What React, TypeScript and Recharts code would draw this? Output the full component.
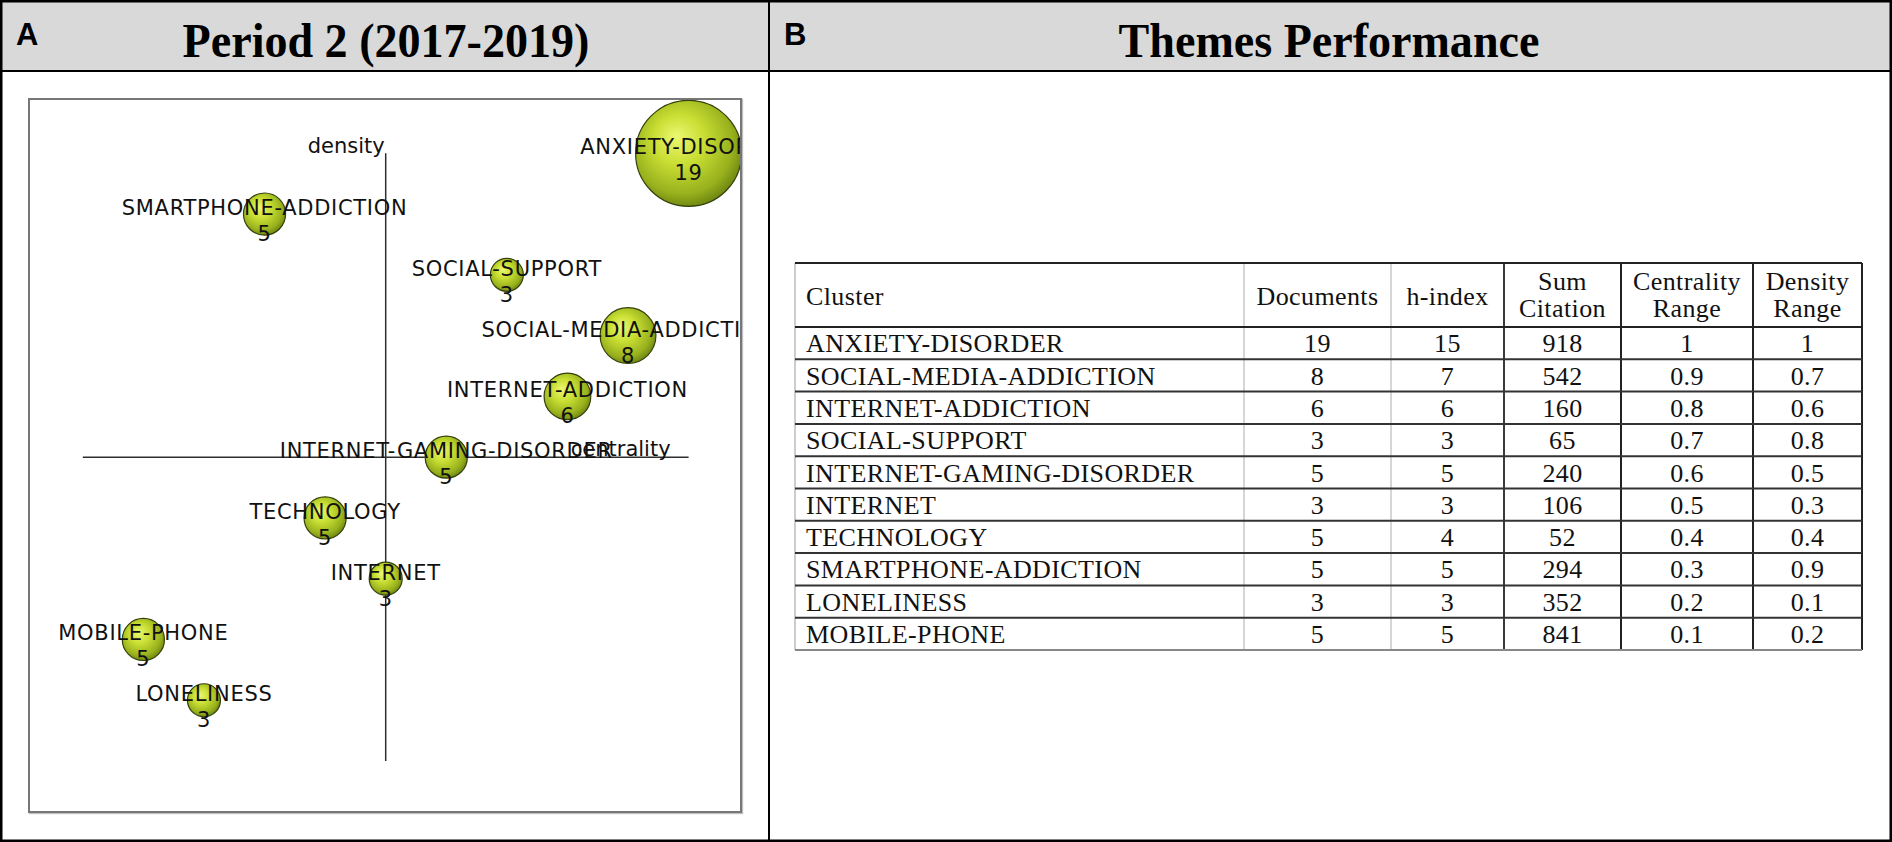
import React from 'react';
import { ScatterChart, Scatter, XAxis, YAxis, ZAxis, ReferenceLine } from 'recharts';

// themes of period 2 (2017-2019), same order as the performance table
const clusters = [
  'ANXIETY-DISORDER',
  'SOCIAL-MEDIA-ADDICTION',
  'INTERNET-ADDICTION',
  'SOCIAL-SUPPORT',
  'INTERNET-GAMING-DISORDER',
  'INTERNET',
  'TECHNOLOGY',
  'SMARTPHONE-ADDICTION',
  'LONELINESS',
  'MOBILE-PHONE',
];
const documents = [19, 8, 6, 3, 5, 3, 5, 5, 3, 5];
const hIndex = [15, 7, 6, 3, 5, 3, 4, 5, 3, 5];
const sumCitation = [918, 542, 160, 65, 240, 106, 52, 294, 352, 841];
const centralityRange = [1, 0.9, 0.8, 0.7, 0.6, 0.5, 0.4, 0.3, 0.2, 0.1];
const densityRange = [1, 0.7, 0.6, 0.8, 0.5, 0.3, 0.4, 0.9, 0.1, 0.2];

const tableHeaders = [['Cluster'], ['Documents'], ['h-index'], ['Sum', 'Citation'], ['Centrality', 'Range'], ['Density', 'Range']];

const plotData = clusters.map((name, i) => ({
  name,
  centrality: centralityRange[i],
  density: densityRange[i],
  docs: documents[i],
}));

const SANS = '"DejaVu Sans", sans-serif';
const SERIF = '"Liberation Serif", "Times New Roman", serif';

// zAxis range is used as the sphere radius
const Bubble = (props: any) => {
  const { cx, cy } = props;
  const r = typeof props.size === 'number' ? props.size : Math.PI * Math.pow(props.width / 2, 2);
  return <circle cx={cx} cy={cy} r={r} fill="url(#sphere)" stroke="#34400a" strokeWidth={1.2} />;
};

const BubbleLabel = (props: any) => {
  const { cx, cy, payload } = props;
  const style = { fontFamily: SANS, fontSize: 21, letterSpacing: 0.7, fill: '#111' };
  return (
    <g>
      <text x={cx} y={cy + 1} textAnchor="middle" style={style}>{payload.name}</text>
      <text x={cx} y={cy + 27} textAnchor="middle" style={style}>{payload.docs}</text>
    </g>
  );
};

const axisText = { fontFamily: SANS, fontSize: 21, fill: '#111' };

const densityLabel = (p: any) => {
  const vb = p.viewBox || { x: 0, y: 0 };
  return <text x={vb.x - 1} y={vb.y} textAnchor="end" style={axisText}>density</text>;
};

const centralityLabel = (p: any) => {
  const vb = p.viewBox || { x: 0, y: 0, width: 0 };
  return <text x={vb.x + vb.width - 18} y={vb.y - 1} textAnchor="end" style={axisText}>centrality</text>;
};

const StrategicDiagram = () => (
  <div
    style={{
      position: 'absolute',
      left: 28,
      top: 98,
      width: 714,
      height: 715,
      border: '2px solid #777',
      boxSizing: 'border-box',
      background: '#fff',
      boxShadow: '1px 1px 1px rgba(0,0,0,0.25)',
      overflow: 'hidden',
    }}
  >
    <ScatterChart width={710} height={711} margin={{ top: 53.3, right: 51.4, bottom: 50, left: 52.8 }}>
      <defs>
        <radialGradient id="sphere" cx="45%" cy="42%" r="60%" fx="38%" fy="34%">
          <stop offset="0%" stopColor="#ecf772" />
          <stop offset="40%" stopColor="#c8de33" />
          <stop offset="80%" stopColor="#98b11d" />
          <stop offset="100%" stopColor="#6c8410" />
        </radialGradient>
      </defs>
      <XAxis type="number" dataKey="centrality" domain={[0, 1]} hide />
      <YAxis type="number" dataKey="density" domain={[0, 1]} hide />
      <ZAxis type="number" dataKey="docs" domain={[3, 19]} range={[16.5, 53]} />
      <ReferenceLine segment={[{ x: 0.5, y: 0 }, { x: 0.5, y: 1 }]} stroke="#2e2e2e" strokeWidth={1.5} label={densityLabel} />
      <ReferenceLine segment={[{ x: 0, y: 0.5 }, { x: 1, y: 0.5 }]} stroke="#2e2e2e" strokeWidth={1.5} label={centralityLabel} />
      <Scatter data={plotData} shape={Bubble} isAnimationActive={false} />
      <Scatter data={plotData} shape={BubbleLabel} isAnimationActive={false} />
    </ScatterChart>
  </div>
);

// table geometry
const colEdges = [795, 1244, 1391, 1504, 1621, 1753, 1862];
const colLine = ['#bdbdbd', '#c9c9c9', '#c9c9c9', '#3a3a3a', '#222', '#222', '#222'];
const headTop = 263;
const headBottom = 327;
const rowH = 32.3;

const ThemesTable = () => {
  const bottom = headBottom + rowH * clusters.length;
  const cellText = { fontFamily: SERIF, fontSize: 26, letterSpacing: 0.4, fill: '#111' };
  const rows = clusters.map((c, i) => [c, documents[i], hIndex[i], sumCitation[i], centralityRange[i], densityRange[i]]);
  const mid = (j: number) => (colEdges[j] + colEdges[j + 1]) / 2;
  return (
    <g>
      {colEdges.map((x, j) => (
        <line key={'v' + j} x1={x} x2={x} y1={headTop} y2={bottom} stroke={colLine[j]} strokeWidth={j > 2 ? 2 : 1.5} />
      ))}
      <line x1={colEdges[0]} x2={colEdges[6]} y1={headTop} y2={headTop} stroke="#222" strokeWidth={2} />
      <line x1={colEdges[0]} x2={colEdges[6]} y1={headBottom} y2={headBottom} stroke="#222" strokeWidth={2} />
      {rows.map((_, i) => (
        <line
          key={'h' + i}
          x1={colEdges[0]}
          x2={colEdges[6]}
          y1={headBottom + rowH * (i + 1)}
          y2={headBottom + rowH * (i + 1)}
          stroke={i === rows.length - 1 ? '#888' : '#333'}
          strokeWidth={2}
        />
      ))}
      {tableHeaders.map((h, j) =>
        h.length === 1 ? (
          <text key={'th' + j} x={j === 0 ? 806 : mid(j)} y={305} textAnchor={j === 0 ? 'start' : 'middle'} style={cellText}>
            {h[0]}
          </text>
        ) : (
          <g key={'th' + j}>
            <text x={mid(j)} y={290} textAnchor="middle" style={cellText}>{h[0]}</text>
            <text x={mid(j)} y={317} textAnchor="middle" style={cellText}>{h[1]}</text>
          </g>
        ),
      )}
      {rows.map((r, i) =>
        r.map((v, j) => (
          <text
            key={i + '-' + j}
            x={j === 0 ? 806 : mid(j)}
            y={headBottom + rowH * (i + 1) - 7}
            textAnchor={j === 0 ? 'start' : 'middle'}
            style={cellText}
          >
            {String(v)}
          </text>
        )),
      )}
    </g>
  );
};

export default function App() {
  const titleStyle = { fontFamily: SERIF, fontWeight: 700, fontSize: 48, fill: '#000' };
  const letterStyle = { fontFamily: '"Liberation Sans", Arial, sans-serif', fontWeight: 700, fontSize: 31, fill: '#000' };
  return (
    <div style={{ position: 'absolute', left: 0, top: 0, width: 1892, height: 842, background: '#fff' }}>
      <svg width={1892} height={842} style={{ position: 'absolute', left: 0, top: 0 }}>
        <rect x={0} y={0} width={1892} height={842} fill="#fff" />
        <rect x={1} y={1} width={1890} height={70} fill="#d9d9d9" />
        <line x1={0} x2={1892} y1={71} y2={71} stroke="#000" strokeWidth={2} />
        <line x1={769} x2={769} y1={0} y2={842} stroke="#000" strokeWidth={2} />
        <rect x={1.25} y={1.25} width={1889.5} height={839.5} fill="none" stroke="#000" strokeWidth={2.5} />
        <text x={16} y={45} style={letterStyle}>A</text>
        <text x={784} y={45} style={letterStyle}>B</text>
        <text transform="translate(386 57) scale(0.96 1)" textAnchor="middle" style={titleStyle}>Period 2 (2017-2019)</text>
        <text transform="translate(1329 57) scale(0.96 1)" textAnchor="middle" style={titleStyle}>Themes Performance</text>
        <ThemesTable />
      </svg>
      <StrategicDiagram />
    </div>
  );
}
